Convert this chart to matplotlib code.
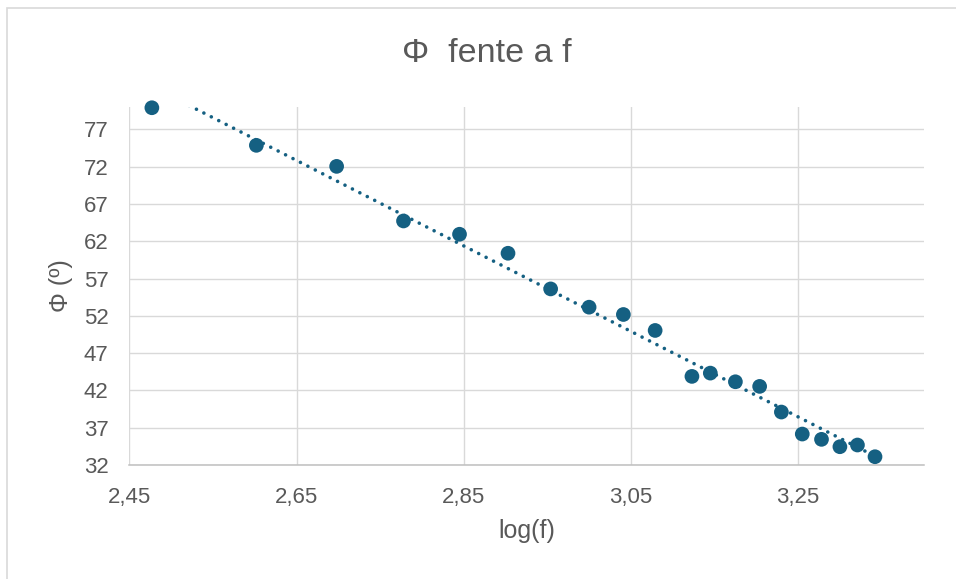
#!/usr/bin/env python3
# -*- coding: utf-8 -*-

import numpy as np
import matplotlib as mpl
import matplotlib.pyplot as plt
from matplotlib.patches import Rectangle
from matplotlib.ticker import FuncFormatter

OUT_FIG = "out.png"

LOG_F = [2.477, 2.602, 2.698, 2.778, 2.845, 2.903, 2.954, 3.000, 3.041, 3.079,
         3.123, 3.145, 3.175, 3.204, 3.230, 3.255, 3.278, 3.300, 3.321, 3.342]
PHI = [79.9, 74.86, 72.04, 64.72, 62.94, 60.39, 55.61, 53.16, 52.18, 50.04,
       43.88, 44.32, 43.16, 42.54, 39.10, 36.15, 35.44, 34.45, 34.68, 33.11]

X_TICKS = [2.45, 2.65, 2.85, 3.05, 3.25]
Y_TICKS = [32, 37, 42, 47, 52, 57, 62, 67, 72, 77]

TITLE = "Φ  fente a f"
X_LABEL = "log(f)"
Y_LABEL = "Φ (º)"

MARKER_COLOR = "#156082"
TEXT_COLOR = "#595959"
GRID_COLOR = "#D9D9D9"

mpl.rcParams["font.family"] = ["Liberation Sans", "DejaVu Sans"]


def comma_fmt(v, pos):
    return f"{v:.2f}".replace(".", ",")


def main():
    W, H = 956, 579
    fig = plt.figure(figsize=(W / 100, H / 100), dpi=100)

    left, right, bottom, top = 129.3, 923.5, 465, 107
    ax = fig.add_axes([left / W, 1 - bottom / H, (right - left) / W, (bottom - top) / H])

    # outer chart border (cut off on right and bottom)
    fig.patches.append(Rectangle(
        (7 / W, -0.1), 1.2, 1 - 8 / H + 0.1,
        transform=fig.transFigure, fill=False,
        edgecolor=GRID_COLOR, linewidth=1.2
    ))

    ax.set_xlim(2.45, 3.40)
    ax.set_ylim(32, 80)

    ax.set_xticks(X_TICKS)
    ax.set_yticks(Y_TICKS)
    ax.xaxis.set_major_formatter(FuncFormatter(comma_fmt))

    ax.grid(True, color=GRID_COLOR, linewidth=1.0, zorder=0)
    ax.set_axisbelow(True)

    for side in ["top", "right", "left"]:
        ax.spines[side].set_visible(False)
    ax.spines["bottom"].set_color("#BFBFBF")
    ax.spines["bottom"].set_linewidth(1.1)

    ax.tick_params(axis="both", length=0, labelsize=16, colors=TEXT_COLOR)
    ax.tick_params(axis="x", pad=16)
    ax.tick_params(axis="y", pad=15)

    # linear trendline
    x = np.array(LOG_F)
    y = np.array(PHI)
    k, b = np.polyfit(x, y, 1)
    xs = np.array([x.min(), x.max()])
    ax.plot(xs, k * xs + b, color=MARKER_COLOR, linewidth=2.6,
            linestyle=(0, (0.01, 2.3)), dash_capstyle="round", zorder=2)

    ax.scatter(x, y, s=112, color=MARKER_COLOR, edgecolors="none",
               zorder=3, clip_on=False)

    ax.set_xlabel(X_LABEL, fontsize=18, color=TEXT_COLOR, labelpad=8)
    ax.set_ylabel(Y_LABEL, fontsize=18, color=TEXT_COLOR, labelpad=8)

    fig.text(487 / W, 1 - 53 / H, TITLE, fontsize=24.5, color=TEXT_COLOR,
             ha="center", va="center")

    fig.savefig(OUT_FIG, dpi=100, facecolor="white")
    plt.close(fig)


if __name__ == "__main__":
    main()
